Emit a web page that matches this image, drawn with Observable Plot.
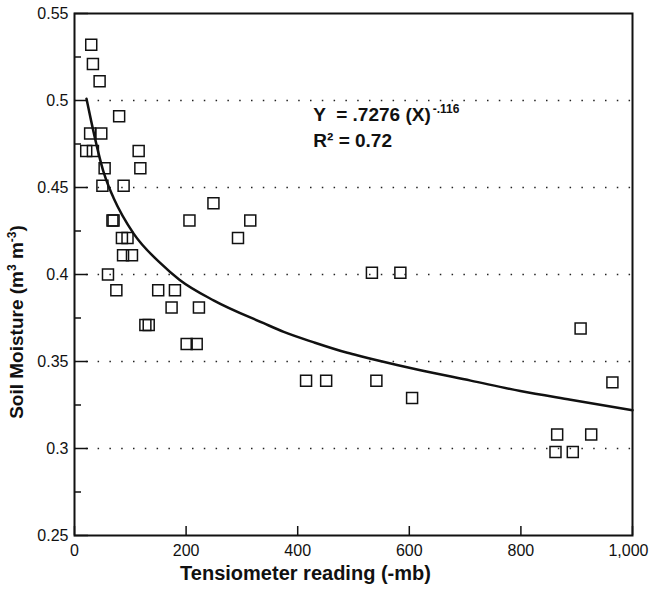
<!DOCTYPE html>
<html><head><meta charset="utf-8">
<script src="https://cdn.jsdelivr.net/npm/d3@7"></script>
<script src="https://cdn.jsdelivr.net/npm/@observablehq/plot@0.6"></script>
<style>
body{margin:0;background:#fff;}
#chart{width:650px;height:590px;}
svg text{white-space:pre;}
</style></head><body><div id="chart"></div>
<script>
// Observed points (tensiometer reading, soil moisture)
const tension  = [30,33,45,80, 28,48, 21,33,115, 54,118, 50,88, 249, 68,70,206,315, 85,95,293, 87,103, 60,533,584, 75,150,180, 174,223, 127,133,907, 201,219, 415,451,541,964, 605, 865,926, 862,893];
const moisture = [0.532,0.521,0.511,0.491, 0.481,0.481, 0.471,0.471,0.471, 0.461,0.461, 0.451,0.451, 0.441, 0.431,0.431,0.431,0.431, 0.421,0.421,0.421, 0.411,0.411, 0.400,0.401,0.401, 0.391,0.391,0.391, 0.381,0.381, 0.371,0.371,0.369, 0.360,0.360, 0.339,0.339,0.339,0.338, 0.329, 0.308,0.308, 0.298,0.298];

// Fitted curve
const fitX = [21.5,30,52,62,70,106,154,188,250,339,375,429,489,513,578,620,710,799,889,1000];
const fitY = [0.501,0.488,0.459,0.450,0.444,0.4235,0.4065,0.397,0.385,0.372,0.367,0.361,0.355,0.353,0.348,0.345,0.339,0.333,0.328,0.322];

const xTicks = [0,200,400,600,800,1000];
const yTicks = [0.25,0.3,0.35,0.4,0.45,0.5,0.55];
const yMinorTicks = [0.275,0.325,0.375,0.425,0.475,0.525];
const gridLines = [0.3,0.35,0.4,0.45,0.5];

const equationText = "Y  = .7276 (X)";
const exponentText = "-.116";
const r2Text = "R\u00b2 = 0.72";
const xTitle = "Tensiometer reading (-mb)";
const yTitle = "Soil Moisture (m3 m-3)";

const points = tension.map((t, i) => ({t, m: moisture[i]}));
const fit = fitX.map((x, i) => ({x, y: fitY[i]}));

const W = 650, H = 590, mL = 74, mR = 18, mT = 13, mB = 55;
const pw = W - mL - mR, ph = H - mT - mB;

const svg = Plot.plot({
  width: W, height: H,
  marginLeft: mL, marginRight: mR, marginTop: mT, marginBottom: mB,
  style: {fontFamily: "'Liberation Sans', Arial, Helvetica, sans-serif", fontSize: "16px", color: "#111", background: "#fff"},
  x: {domain: [0, 1000], axis: null},
  y: {domain: [0.25, 0.55], axis: null},
  marks: [
    Plot.ruleY(gridLines, {stroke: "#222", strokeWidth: 1.6, strokeDasharray: "1.5,10.3"}),
    Plot.tickY(yTicks, {y: d => d, insetRight: pw - 14, strokeWidth: 1.5, stroke: "#111"}),
    Plot.tickY(yMinorTicks, {y: d => d, insetRight: pw - 7, strokeWidth: 1.5, stroke: "#111"}),
    Plot.tickX(xTicks, {x: d => d, insetTop: ph - 9, strokeWidth: 1.5, stroke: "#111"}),
    Plot.axisX(xTicks.slice(0, -1), {tickSize: 0, tickPadding: 9, tickFormat: d3.format(","), fontSize: 16, label: null}),
    Plot.axisX(xTicks.slice(-1), {tickSize: 0, tickPadding: 9, tickFormat: d3.format(","), fontSize: 16, label: null, textAnchor: "end", dx: 16}),
    Plot.axisY(yTicks, {tickSize: 0, tickPadding: 6, tickFormat: d => String(+d.toFixed(2)), fontSize: 16, label: null}),
    Plot.dot(points, {x: "t", y: "m", symbol: "square", r: 6.2, fill: "none", stroke: "#111", strokeWidth: 1.5}),
    Plot.line(fit, {x: "x", y: "y", curve: "monotone-x", stroke: "#111", strokeWidth: 2.5}),
    Plot.frame({stroke: "#111", strokeWidth: 2}),
    Plot.text([equationText], {x: 428, y: 0.488, text: d => d, textAnchor: "start", lineAnchor: "bottom", fontSize: 19, fontWeight: "bold"}),
    Plot.text([r2Text], {x: 428, y: 0.4735, text: d => d, textAnchor: "start", lineAnchor: "bottom", fontSize: 19, fontWeight: "bold"}),
    Plot.text([xTitle], {frameAnchor: "bottom", textAnchor: "middle", lineAnchor: "middle", dx: -48, dy: 38, text: d => d, fontSize: 20, fontWeight: "bold"}),
    Plot.text([yTitle], {frameAnchor: "left", rotate: -90, textAnchor: "middle", lineAnchor: "middle", text: d => d, fontSize: 19, fontWeight: "bold"})
  ]
});

// superscripts and title placement
d3.select(svg).selectAll("text").each(function() {
  const t = d3.select(this);
  const s = this.textContent;
  if (s === equationText) {
    t.append("tspan").attr("dy", -8).attr("dx", 2).attr("font-size", 12).text(exponentText);
  } else if (s === yTitle) {
    t.text(null);
    t.attr("text-anchor", "middle").attr("transform", "translate(17,322) rotate(-90)");
    if (this.parentNode) this.parentNode.removeAttribute("transform");
    t.append("tspan").text("Soil Moisture (m");
    t.append("tspan").attr("dy", -7).attr("font-size", 12).text("3");
    t.append("tspan").attr("dy", 7).text(" m");
    t.append("tspan").attr("dy", -7).attr("font-size", 12).text("-3");
    t.append("tspan").attr("dy", 7).text(")");
  }
});

document.getElementById("chart").appendChild(svg);
</script>
</body></html>
